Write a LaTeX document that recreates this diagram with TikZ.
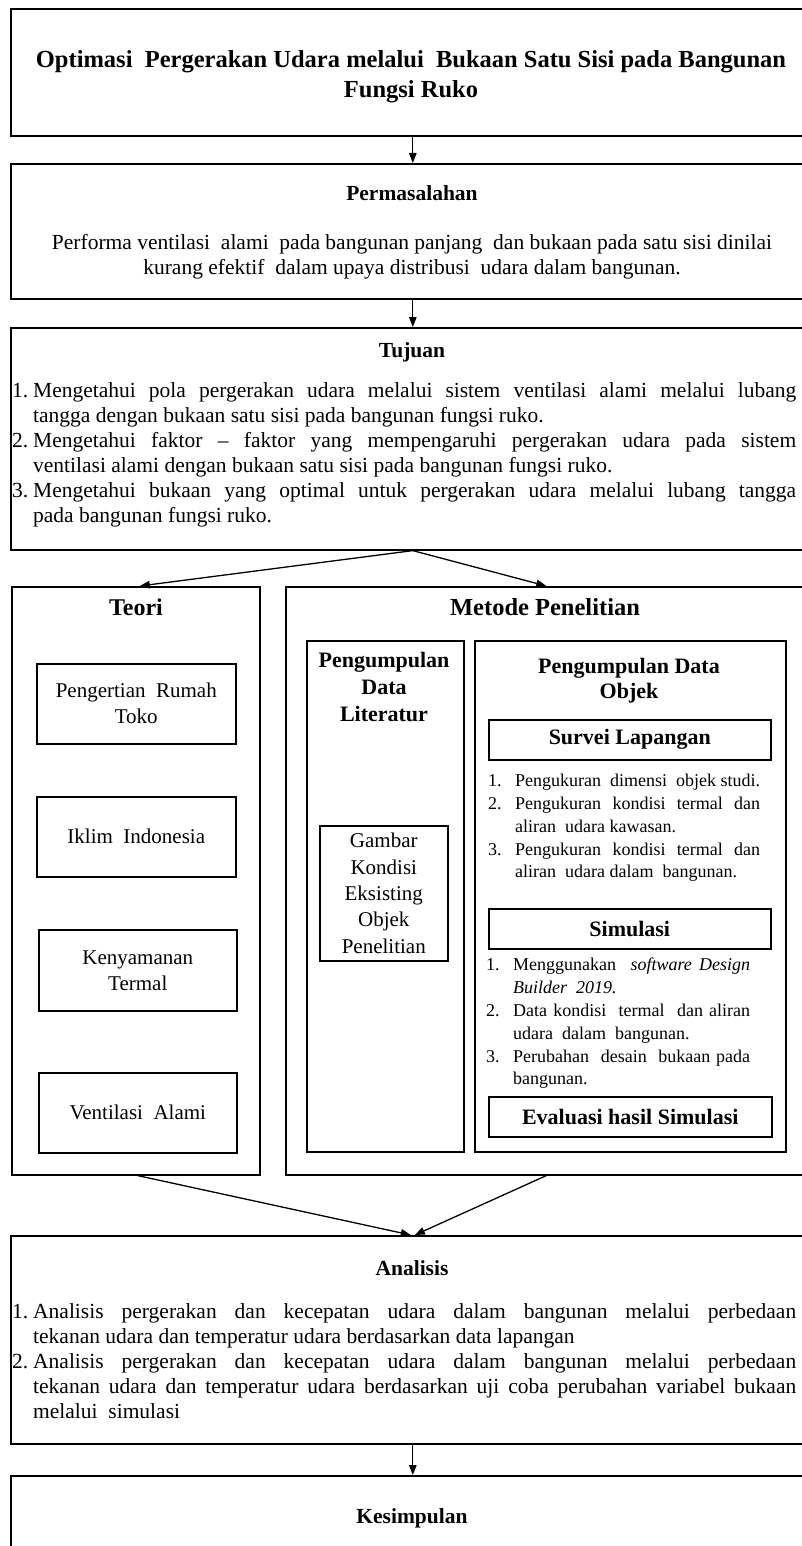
\documentclass[tikz,border=0pt]{standalone}
\usepackage{fontspec}
\setmainfont{Liberation Serif}
\usetikzlibrary{arrows.meta}
\newcommand{\fmain}{\fontsize{21.5}{25}\selectfont}
\newcommand{\fhead}{\bfseries\fontsize{21.5}{25}\selectfont}
\newcommand{\fsub}{\bfseries\fontsize{22}{27}\selectfont}
\newcommand{\fsmall}{\fontsize{18}{22.8}\selectfont}
\newcommand{\fteori}{\fontsize{21}{26}\selectfont}
\newcommand{\itm}[2]{\hangindent=#1\hangafter=1\noindent\makebox[#1][l]{#2}\ignorespaces}
\begin{document}
\begin{tikzpicture}[x=1pt,y=-1pt,
  box/.style={draw, line width=1.6pt, rectangle, inner sep=0pt, anchor=north west, align=center},
  ibox/.style={draw, line width=1.5pt, rectangle, inner sep=0pt, anchor=north west, align=center},
  lbl/.style={inner sep=0pt, align=center},
  lst/.style={inner sep=0pt, anchor=north west, align=justify},
  arr/.style={line width=1.3pt, -{Triangle[length=10pt,width=7.5pt]}}]
\useasboundingbox (0,0) rectangle (802,1546);
\clip (0,0) rectangle (802,1546);
\fill[white] (0,0) rectangle (802,1546);

% main boxes
\node[box, minimum width=804pt, minimum height=127pt] (title) at (10,8) {};
\node[box, minimum width=804pt, minimum height=135pt] (perm) at (10,163) {};
\node[box, minimum width=804pt, minimum height=222pt] (tuj) at (10,327) {};
\node[box, minimum width=248pt, minimum height=588pt] (teori) at (11,586) {};
\node[box, minimum width=529pt, minimum height=588pt] (metode) at (285,586) {};
\node[box, minimum width=804pt, minimum height=208pt] (anal) at (10,1235) {};
\node[box, minimum width=804pt, minimum height=200pt] (kes) at (10,1475) {};

% title
\node[lbl, font=\bfseries\fontsize{24.5}{30}\selectfont] (ttltext) at (411,77)
  {Optimasi\ \ Pergerakan Udara melalui\ \ Bukaan Satu Sisi pada Bangunan\\Fungsi Ruko};

% permasalahan
\node[lbl, font=\fhead] (permhead) at (412,193) {Permasalahan};
\node[lbl, font=\fmain] (permtext) at (412,257)
  {Performa ventilasi\ \ alami\ \ pada bangunan panjang\ \ dan bukaan pada satu sisi dinilai\\kurang efektif\ \ dalam upaya distribusi\ \ udara dalam bangunan.};

% tujuan
\node[lbl, font=\fhead] (tujhead) at (412,352) {Tujuan};
\node[lst, text width=784pt, font=\fmain] (tujlist) at (12,382)
  {\parindent=0pt
  \itm{21pt}{1.}Mengetahui pola pergerakan udara melalui sistem ventilasi alami melalui lubang\linebreak tangga dengan bukaan satu sisi pada bangunan fungsi ruko.\par
  \itm{21pt}{2.}Mengetahui faktor -- faktor yang mempengaruhi pergerakan udara pada sistem\linebreak ventilasi alami dengan bukaan satu sisi pada bangunan fungsi ruko.\par
  \itm{21pt}{3.}Mengetahui bukaan yang optimal untuk pergerakan udara melalui lubang tangga\linebreak pada bangunan fungsi ruko.\par};

% teori
\node[lbl, font=\bfseries\fontsize{24}{27}\selectfont] (teorihead) at (136,607) {Teori};
\node[ibox, minimum width=199pt, minimum height=80pt, font=\fteori] (b1) at (36,663) {Pengertian\ \ Rumah\\Toko};
\node[ibox, minimum width=199pt, minimum height=80pt, font=\fteori] (b2) at (36,796) {Iklim\ \ Indonesia};
\node[ibox, minimum width=198pt, minimum height=81pt, font=\fteori] (b3) at (38,929) {Kenyamanan\\Termal};
\node[ibox, minimum width=198pt, minimum height=80pt, font=\fteori] (b4) at (38,1072) {Ventilasi\ \ Alami};

% metode
\node[lbl, font=\bfseries\fontsize{24.5}{28}\selectfont] (methead) at (545,607) {Metode Penelitian};
\node[ibox, minimum width=157pt, minimum height=511pt] (lit) at (306,640) {};
\node[lbl, font=\fsub] (lithead) at (384,687) {Pengumpulan\\Data\\Literatur};
\node[ibox, minimum width=128pt, minimum height=135pt, font=\fontsize{21}{26.3}\selectfont] (gbr) at (319,825)
  {Gambar\\Kondisi\\Eksisting\\Objek\\Penelitian};
\node[ibox, minimum width=311pt, minimum height=511pt] (obj) at (474,640) {};
\node[lbl, font=\bfseries\fontsize{22}{25}\selectfont] (objhead) at (629,680.5) {Pengumpulan Data\\Objek};
\node[ibox, minimum width=282pt, minimum height=40pt, font=\fsub] (survei) at (488,719) {Survei Lapangan};
\node[lst, text width=272pt, font=\fsmall] (surlist) at (488,774)
  {\parindent=0pt
  \itm{27pt}{1.}Pengukuran\ \ dimensi\ \ objek studi.\par
  \itm{27pt}{2.}Pengukuran\ \ kondisi\ \ termal\ \ dan\linebreak aliran\ \ udara kawasan.\par
  \itm{27pt}{3.}Pengukuran\ \ kondisi\ \ termal\ \ dan\linebreak aliran\ \ udara dalam\ \ bangunan.\par};
\node[ibox, minimum width=282pt, minimum height=40pt, font=\fsub] (simul) at (488,908) {Simulasi};
\node[lst, text width=264pt, font=\fsmall] (simlist) at (486,958)
  {\parindent=0pt
  \itm{27pt}{1.}Menggunakan\ \ \textit{software Design}\linebreak \textit{Builder\ \ 2019.}\par
  \itm{27pt}{2.}Data kondisi\ \ termal\ \ dan aliran\linebreak udara\ \ dalam\ \ bangunan.\par
  \itm{27pt}{3.}Perubahan\ \ desain\ \ bukaan pada\linebreak bangunan.\par};
\node[ibox, minimum width=283pt, minimum height=40pt, font=\fsub] (eval) at (488,1096) {Evaluasi hasil Simulasi};

% analisis
\node[lbl, font=\fhead] (analhead) at (412,1268) {Analisis};
\node[lst, text width=784pt, font=\fmain] (anallist) at (12,1303)
  {\parindent=0pt
  \itm{21pt}{1.}Analisis pergerakan dan kecepatan udara dalam bangunan melalui perbedaan\linebreak tekanan udara dan temperatur udara berdasarkan data lapangan\par
  \itm{21pt}{2.}Analisis pergerakan dan kecepatan udara dalam bangunan melalui perbedaan\linebreak tekanan udara dan temperatur udara berdasarkan uji coba perubahan variabel bukaan\linebreak melalui\ \ simulasi\par};

% kesimpulan
\node[lbl, font=\fhead] (keshead) at (412,1518) {Kesimpulan};

% connectors
\draw[arr] (title.south) -- (perm.north);
\draw[arr] (perm.south) -- (tuj.north);
\draw[arr] (tuj.south) -- ([xshift=4pt]teori.north);
\draw[arr] (tuj.south) -- ([xshift=-4pt]metode.north);
\draw[arr] ([xshift=2pt]teori.south) -- ([xshift=-2pt]anal.north);
\draw[arr] ([xshift=-4pt]metode.south) -- ([xshift=2pt]anal.north);
\draw[arr] (anal.south) -- (kes.north);
\end{tikzpicture}
\end{document}
